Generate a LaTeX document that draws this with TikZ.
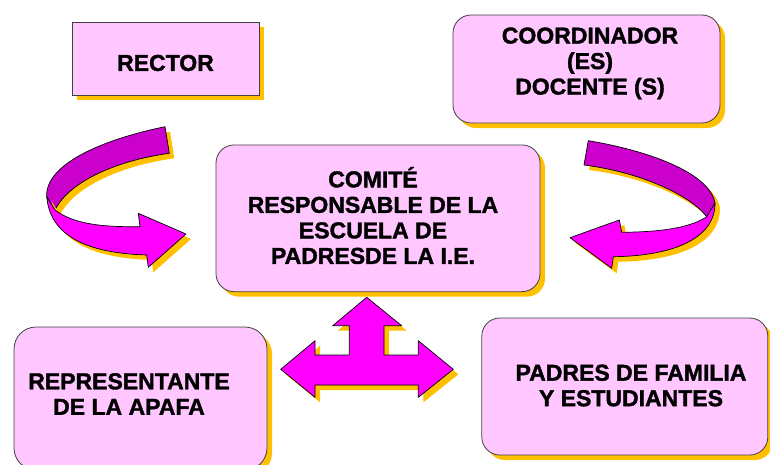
\documentclass[tikz,border=0pt]{standalone}
\usepackage{fontspec}
\setmainfont{Liberation Sans}[BoldFeatures={FakeBold=1.6}]
\usetikzlibrary{calc}

\definecolor{boxpink}{RGB}{255,198,255}
\definecolor{magfront}{RGB}{255,0,255}
\definecolor{magback}{RGB}{204,0,204}
\definecolor{shadeor}{RGB}{255,192,0}

\begin{document}
\begin{tikzpicture}[
  x=1pt,
  y=-1pt,
  every node/.style={font=\fontsize{23}{25.5}\selectfont\bfseries},
  shd/.style={preaction={fill=shadeor, transform canvas={shift={(5pt,-5pt)}}}},
  box/.style={shd, draw=black!75, line width=0.8pt, fill=boxpink, inner sep=0pt},
  rbox/.style={box, rounded corners=18pt},
  txt/.style={align=center, inner sep=0pt},
  front/.style={shd, draw=black, line width=0.7pt, fill=magfront, line join=round},
  back/.style={shd, draw=black, line width=0.7pt, fill=magback, line join=round},
]
  \clip (0,0) rectangle (770,464);

  % Boxes
  \node[box, minimum width=187pt, minimum height=73pt] (rector) at (165.5,58.7) {};
  \node[txt] (rectortxt) at (165.5,63) {RECTOR};

  \node[rbox, minimum width=267pt, minimum height=108pt] (coord) at (586.5,69) {};
  \node[txt] (coordtxt) at (590,63.4) {COORDINADOR\\(ES)\\DOCENTE (S)};

  \node[rbox, minimum width=324pt, minimum height=146.7pt] (comite) at (378,218.3) {};
  \node[txt] (comitetxt) at (373,215.5) {COMITÉ\\RESPONSABLE DE LA\\ESCUELA DE\\PADRESDE LA I.E.};

  \node[rbox, minimum width=253pt, minimum height=143pt, rounded corners=22pt] (apafa) at (140.5,398.5) {};
  \node[txt] (apafatxt) at (129,394) {REPRESENTANTE\\DE LA APAFA};

  \node[rbox, minimum width=286pt, minimum height=137pt] (padres) at (624.8,386.5) {};
  \node[txt] (padrestxt) at (631,385.5) {PADRES DE FAMILIA\\Y ESTUDIANTES};

  % Left curved arrow (ribbon, twisted at the left)
  \path[back] (165,126.7) .. controls (100,140) and (45,165) .. (46.7,196.7)
    -- (55,210) .. controls (70,180) and (120,160) .. (169.3,153.3) -- cycle;
  \path[front] (55,210) .. controls (75,225) and (105,227) .. (140,226.7)
    -- (138.3,213.3) -- (186,234) -- (148.3,267.3) -- (146.7,255)
    .. controls (85,253) and (50,235) .. (46.7,196.7) -- cycle;

  % Right curved arrow
  \path[back] (588.3,140.7) .. controls (645,150) and (710,172) .. (715,203.3)
    -- (706.7,216.7) .. controls (690,195) and (640,172) .. (584,165) -- cycle;
  \path[front] (706.7,216.7) .. controls (690,228) and (660,232) .. (621.7,232.3)
    -- (619.3,220) -- (570,237.7) -- (611.7,268.3) -- (613.3,256.7)
    .. controls (670,256) and (715,240) .. (715,203.3) -- cycle;

  % Three-way arrow under the committee
  \path[front] (366.7,297.3) -- (401.7,325.7) -- (384,325.7) -- (384,355)
    -- (418.3,355) -- (418.3,340.7) -- (453.3,369.3) -- (418.3,397.3)
    -- (418.3,385) -- (315,385) -- (315,397.3) -- (280.7,369.3)
    -- (315,340.7) -- (315,355) -- (349.3,355) -- (349.3,325.7)
    -- (332.7,325.7) -- cycle;
\end{tikzpicture}
\end{document}
